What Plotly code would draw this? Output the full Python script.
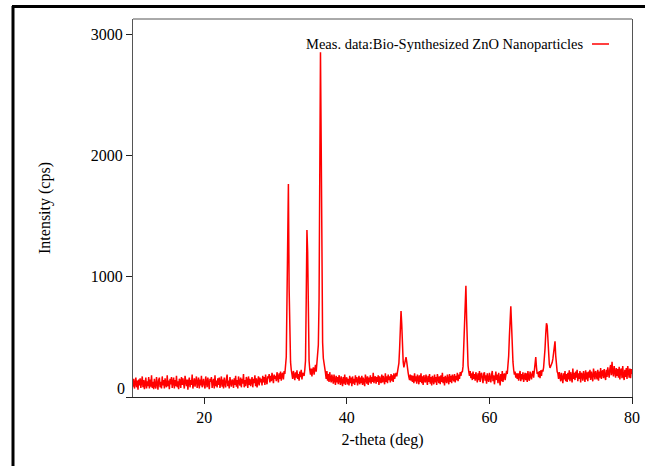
import plotly.graph_objects as go

# 2-theta scan: start / step of the measurement and the measured intensities (cps)
two_theta_start = 10.0
two_theta_step = 0.1
intensity = [
    # 10
    85, 150, 70, 125, 160, 80, 135, 60, 145, 95,
    155, 75, 120, 170, 80, 140, 65, 115, 160, 70,
    130, 90, 165, 70, 145, 85, 180, 75, 125, 65,
    150, 95, 70, 165, 130, 60, 140, 160, 80, 125,
    70, 170, 95, 140, 70, 155, 100, 80, 180, 90,
    # 15
    135, 65, 150, 105, 165, 75, 120, 160, 70, 140,
    90, 175, 80, 130, 65, 150, 135, 75, 165, 100,
    155, 85, 70, 175, 120, 90, 145, 60, 130, 160,
    80, 140, 100, 185, 70, 130, 155, 85, 115, 170,
    75, 135, 160, 70, 145, 95, 175, 80, 125, 150,
    # 20
    95, 70, 170, 135, 80, 160, 100, 65, 150, 125,
    165, 75, 120, 150, 70, 180, 90, 135, 80, 155,
    100, 160, 75, 130, 170, 85, 145, 70, 160, 115,
    80, 150, 185, 90, 135, 70, 165, 120, 85, 145,
    130, 75, 155, 100, 175, 85, 140, 70, 170, 120,
    # 25
    95, 160, 80, 150, 110, 190, 80, 140, 90, 165,
    140, 75, 170, 100, 150, 90, 135, 165, 80, 150,
    115, 180, 90, 155, 80, 145, 170, 95, 160, 120,
    150, 95, 175, 120, 165, 100, 185, 130, 105, 170,
    155, 190, 120, 175, 130, 200, 160, 115, 185, 150,
    # 30
    175, 130, 205, 160, 120, 195, 150, 210, 135, 185,
    200, 145, 215, 190, 240, 330, 800, 1550, 1760, 900,
    420, 290, 225, 195, 150, 215, 180, 140, 205, 160,
    220, 150, 190, 135, 210, 165, 225, 145, 200, 185,
    175, 225, 300, 800, 1380, 1200, 520, 300, 225, 185,
    # 35
    235, 170, 225, 245, 185, 240, 265, 210, 280, 320,
    430, 800, 1700, 2850, 2100, 900, 450, 320, 260, 210,
    200, 150, 215, 135, 190, 125, 205, 150, 120, 185,
    160, 110, 185, 130, 100, 175, 120, 165, 105, 180,
    150, 100, 170, 120, 90, 165, 110, 185, 100, 155,
    # 40
    160, 105, 150, 95, 175, 115, 160, 90, 170, 110,
    150, 100, 180, 120, 165, 95, 145, 175, 105, 160,
    115, 175, 100, 160, 125, 90, 185, 130, 110, 170,
    100, 160, 120, 180, 110, 165, 125, 200, 115, 160,
    170, 110, 165, 125, 180, 100, 170, 130, 115, 185,
    # 45
    120, 175, 140, 105, 195, 125, 170, 115, 185, 140,
    170, 120, 190, 135, 180, 125, 195, 150, 175, 200,
    170, 200, 225, 280, 400, 580, 710, 600, 400, 290,
    245, 275, 310, 330, 290, 215, 200, 165, 140, 185,
    135, 180, 125, 175, 115, 195, 130, 170, 110, 185,
    # 50
    160, 105, 180, 125, 195, 115, 170, 100, 180, 140,
    120, 185, 135, 100, 175, 125, 190, 110, 165, 95,
    175, 130, 105, 185, 120, 165, 100, 190, 140, 115,
    170, 105, 180, 125, 200, 115, 165, 95, 175, 130,
    115, 185, 140, 105, 190, 125, 175, 115, 185, 145,
    # 55
    130, 190, 120, 175, 140, 200, 130, 185, 150, 205,
    175, 210, 205, 255, 420, 650, 850, 920, 650, 380,
    260, 210, 175, 215, 155, 195, 140, 210, 150, 190,
    135, 205, 150, 120, 195, 140, 215, 125, 185, 200,
    150, 115, 190, 205, 135, 180, 110, 195, 150, 125,
    # 60
    200, 140, 120, 185, 215, 130, 180, 105, 195, 210,
    140, 185, 115, 200, 150, 95, 190, 130, 215, 125,
    180, 195, 140, 205, 215, 190, 250, 340, 500, 700,
    750, 600, 400, 290, 225, 185, 210, 160, 195, 150,
    195, 135, 185, 215, 130, 190, 145, 205, 125, 185,
    # 65
    200, 140, 195, 125, 215, 155, 135, 210, 160, 145,
    195, 215, 160, 235, 300, 330, 245, 190, 205, 165,
    215, 155, 220, 175, 225, 210, 245, 300, 400, 520,
    610, 590, 450, 330, 270, 240, 255, 265, 285, 315,
    360, 430, 460, 340, 255, 210, 195, 150, 205, 140,
    # 70
    130, 200, 160, 115, 195, 145, 215, 130, 190, 125,
    200, 145, 220, 130, 205, 165, 120, 235, 150, 200,
    140, 210, 160, 225, 130, 195, 150, 215, 120, 200,
    185, 135, 215, 170, 125, 220, 145, 205, 130, 210,
    160, 225, 140, 210, 155, 130, 235, 165, 145, 215,
    # 75
    170, 145, 225, 135, 210, 160, 240, 150, 205, 220,
    155, 230, 175, 140, 225, 165, 245, 180, 160, 235,
    265, 180, 290, 205, 170, 255, 190, 160, 240, 175,
    230, 160, 250, 145, 220, 235, 155, 255, 175, 140,
    225, 165, 240, 150, 255, 180, 160, 235, 155, 230,
    # 80
    190,
]
two_theta = [round(two_theta_start + i * two_theta_step, 2) for i in range(len(intensity))]

series_name = "Meas. data:Bio-Synthesized ZnO Nanoparticles"
x_title = "2-theta (deg)"
y_title = "Intensity (cps)"
x_ticks = [20, 40, 60, 80]
y_ticks = [0, 1000, 2000, 3000]
y_tick_labels = ["", "1000", "2000", "3000"]

FONT = "Liberation Serif"
W, H = 645, 466
L, R, T, B = 133, 13, 19, 69
pw, ph = W - L - R, H - T - B

def px(xp):
    return (xp - L) / pw

def py(yp):
    return 1 - (yp - T) / ph

fig = go.Figure()
fig.add_trace(go.Scatter(
    x=two_theta, y=intensity, mode="lines", name=series_name,
    line=dict(color="#ff0000", width=1.5), showlegend=False,
))

fig.update_layout(
    width=W, height=H,
    margin=dict(l=L, r=R, t=T, b=B, pad=0, autoexpand=False),
    paper_bgcolor="white", plot_bgcolor="white",
    font=dict(family=FONT, size=16, color="black"),
    xaxis=dict(
        range=[10, 80], tickvals=x_ticks, showgrid=False, zeroline=False,
        showline=True, linecolor="#222", linewidth=1, automargin=False,
        ticks="outside", ticklen=6, tickcolor="#222",
        title=dict(text=x_title, font=dict(family=FONT, size=16), standoff=8),
        tickfont=dict(family=FONT, size=16),
    ),
    yaxis=dict(
        range=[0, 3124], tickvals=y_ticks, ticktext=y_tick_labels,
        showgrid=False, zeroline=False, automargin=False,
        showline=True, linecolor="#555", linewidth=1, mirror=True,
        ticks="outside", ticklen=6, tickcolor="#222",
        title=dict(text=y_title, font=dict(family=FONT, size=16), standoff=36),
        tickfont=dict(family=FONT, size=16),
    ),
)

# "0" label sits slightly above the x axis in the reference
fig.add_annotation(x=px(127), y=py(388), xref="paper", yref="paper",
                   text="0", showarrow=False, xanchor="right", yanchor="middle",
                   font=dict(family=FONT, size=16))

# legend (text then line sample, top right)
fig.add_annotation(x=px(304), y=py(44), xref="paper", yref="paper",
                   text=series_name, showarrow=False, xanchor="left", yanchor="middle",
                   font=dict(family=FONT, size=14.5))
fig.add_shape(type="line", xref="paper", yref="paper",
              x0=px(592), x1=px(609), y0=py(44), y1=py(44),
              line=dict(color="#ff0000", width=1.5))

# top frame line
fig.add_shape(type="line", xref="paper", yref="paper",
              x0=0, x1=1, y0=1, y1=1, line=dict(color="#555", width=1))

# outer black border (left & top)
fig.add_shape(type="line", xref="paper", yref="paper",
              x0=px(13), x1=px(13), y0=py(H + 5), y1=py(6),
              line=dict(color="black", width=3))
fig.add_shape(type="line", xref="paper", yref="paper",
              x0=px(12), x1=px(W + 5), y0=py(6.5), y1=py(6.5),
              line=dict(color="black", width=3))

fig.write_html("out.html")
